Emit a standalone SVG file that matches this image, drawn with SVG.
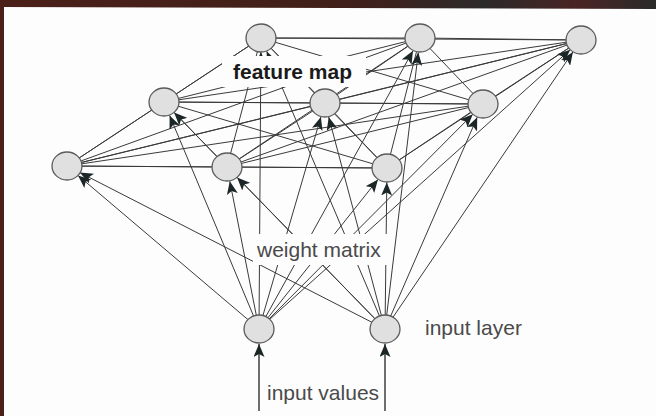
<svg xmlns="http://www.w3.org/2000/svg" width="656" height="416" viewBox="0 0 656 416">
  <defs>
    <linearGradient id="topBand" x1="0" y1="0" x2="1" y2="0">
      <stop offset="0" stop-color="#4b2019"/>
      <stop offset="0.55" stop-color="#40201a"/>
      <stop offset="0.74" stop-color="#2c2a2a"/>
      <stop offset="0.88" stop-color="#4a2424"/>
      <stop offset="1" stop-color="#2a2a2a"/>
    </linearGradient>
    <marker id="ah" markerWidth="14" markerHeight="11" refX="13" refY="5.5" orient="auto" markerUnits="userSpaceOnUse">
      <path d="M0,0 L13,5.5 L0,11 L3,5.5 z" fill="#1c2626"/>
    </marker>
    <style>
      .lat { stroke: #3a3a3a; stroke-width: 1; fill: none; }
      .w { stroke: #3a3a3a; stroke-width: 1; fill: none; marker-end: url(#ah); }
      .in { stroke: #222; stroke-width: 1.3; fill: none; marker-end: url(#ah); }
      .node ellipse { fill: #e0e0e0; stroke: #5a5a5a; stroke-width: 1.3; }
      .lbl { font-family: "Liberation Sans", Arial, sans-serif; font-size: 21px; fill: #4a4a4a; }
      .bold { font-weight: bold; fill: #1a1a1a; }
    </style>
  </defs>

  <!-- background and frame -->
  <rect x="0" y="0" width="656" height="416" fill="#fdfdfd"/>
  <polygon points="0,0 656,0 656,9 0,7" fill="url(#topBand)"/>
  <rect x="0" y="0" width="4" height="416" fill="#4a2019"/>

  <g id="connectors">
    <!-- lateral links inside the feature map -->
    <g id="lateral">
      <line class="lat" x1="261" y1="38" x2="420" y2="38"/>
      <line class="lat" x1="261" y1="38" x2="581" y2="40"/>
      <line class="lat" x1="261" y1="38" x2="164" y2="102"/>
      <line class="lat" x1="261" y1="38" x2="325" y2="103"/>
      <line class="lat" x1="261" y1="38" x2="483" y2="104"/>
      <line class="lat" x1="261" y1="38" x2="67" y2="166"/>
      <line class="lat" x1="261" y1="38" x2="227" y2="167"/>
      <line class="lat" x1="261" y1="38" x2="387" y2="168"/>
      <line class="lat" x1="420" y1="38" x2="581" y2="40"/>
      <line class="lat" x1="420" y1="38" x2="164" y2="102"/>
      <line class="lat" x1="420" y1="38" x2="325" y2="103"/>
      <line class="lat" x1="420" y1="38" x2="483" y2="104"/>
      <line class="lat" x1="420" y1="38" x2="67" y2="166"/>
      <line class="lat" x1="420" y1="38" x2="227" y2="167"/>
      <line class="lat" x1="420" y1="38" x2="387" y2="168"/>
      <line class="lat" x1="581" y1="40" x2="164" y2="102"/>
      <line class="lat" x1="581" y1="40" x2="325" y2="103"/>
      <line class="lat" x1="581" y1="40" x2="483" y2="104"/>
      <line class="lat" x1="581" y1="40" x2="67" y2="166"/>
      <line class="lat" x1="581" y1="40" x2="227" y2="167"/>
      <line class="lat" x1="581" y1="40" x2="387" y2="168"/>
      <line class="lat" x1="164" y1="102" x2="325" y2="103"/>
      <line class="lat" x1="164" y1="102" x2="483" y2="104"/>
      <line class="lat" x1="164" y1="102" x2="67" y2="166"/>
      <line class="lat" x1="164" y1="102" x2="227" y2="167"/>
      <line class="lat" x1="164" y1="102" x2="387" y2="168"/>
      <line class="lat" x1="325" y1="103" x2="483" y2="104"/>
      <line class="lat" x1="325" y1="103" x2="67" y2="166"/>
      <line class="lat" x1="325" y1="103" x2="227" y2="167"/>
      <line class="lat" x1="325" y1="103" x2="387" y2="168"/>
      <line class="lat" x1="483" y1="104" x2="67" y2="166"/>
      <line class="lat" x1="483" y1="104" x2="227" y2="167"/>
      <line class="lat" x1="483" y1="104" x2="387" y2="168"/>
      <line class="lat" x1="67" y1="166" x2="227" y2="167"/>
      <line class="lat" x1="67" y1="166" x2="387" y2="168"/>
      <line class="lat" x1="227" y1="167" x2="387" y2="168"/>
    </g>

    <!-- weights from input 1 -->
    <g id="weights-in1">
      <line class="w" x1="259.1" y1="315" x2="260.9" y2="52"/>
      <line class="w" x1="265.8" y1="316.7" x2="413" y2="50.7"/>
      <line class="w" x1="269.4" y1="319.6" x2="570.2" y2="49.7"/>
      <line class="w" x1="253.6" y1="316.1" x2="169.6" y2="115.4"/>
      <line class="w" x1="262.9" y1="315.6" x2="320.9" y2="116.9"/>
      <line class="w" x1="268.9" y1="319.1" x2="472.8" y2="114.3"/>
      <line class="w" x1="248.3" y1="319.9" x2="78" y2="175.4"/>
      <line class="w" x1="256.3" y1="315.3" x2="229.8" y2="181.2"/>
      <line class="w" x1="267.7" y1="318" x2="378" y2="179.4"/>
    </g>

    <!-- weights from input 2 -->
    <g id="weights-in2">
      <line class="w" x1="379.5" y1="316.1" x2="266.7" y2="51.3"/>
      <line class="w" x1="386.7" y1="315.1" x2="418.3" y2="52.4"/>
      <line class="w" x1="392.9" y1="317.4" x2="572.9" y2="52"/>
      <line class="w" x1="375.2" y1="319" x2="174.1" y2="112.4"/>
      <line class="w" x1="381.4" y1="315.5" x2="328.7" y2="117"/>
      <line class="w" x1="390.6" y1="316.2" x2="477.2" y2="117.3"/>
      <line class="w" x1="372.5" y1="322.6" x2="79.9" y2="172.6"/>
      <line class="w" x1="375.2" y1="319" x2="237.1" y2="177.4" stroke-width="1.6"/>
      <line class="w" x1="385.2" y1="315" x2="386.8" y2="182.5"/>
    </g>

    <!-- external input arrows -->
    <g id="inputs">
      <line class="in" x1="259" y1="411" x2="259" y2="344"/>
      <line class="in" x1="385" y1="411" x2="385" y2="344"/>
    </g>
  </g>

  <!-- label backings that break the lines -->
  <g id="labels">
    <rect x="222" y="56" width="144" height="31" fill="#fdfdfd"/>
    <text class="lbl bold" x="233" y="79">feature map</text>
    <rect x="253" y="234" width="138" height="31" fill="#fdfdfd"/>
    <text class="lbl" x="257" y="257">weight matrix</text>
    <text class="lbl" x="425" y="335">input layer</text>
    <text class="lbl" x="267" y="400" fill="#333">input values</text>
  </g>

  <!-- feature map neurons (3 x 3) -->
  <g id="n-a1" class="node"><ellipse cx="261" cy="38" rx="15" ry="14"/></g>
  <g id="n-a2" class="node"><ellipse cx="420" cy="38" rx="15" ry="14"/></g>
  <g id="n-a3" class="node"><ellipse cx="581" cy="40" rx="15" ry="14"/></g>
  <g id="n-b1" class="node"><ellipse cx="164" cy="102" rx="15" ry="14"/></g>
  <g id="n-b2" class="node"><ellipse cx="325" cy="103" rx="15" ry="14"/></g>
  <g id="n-b3" class="node"><ellipse cx="483" cy="104" rx="15" ry="14"/></g>
  <g id="n-c1" class="node"><ellipse cx="67" cy="166" rx="15" ry="14"/></g>
  <g id="n-c2" class="node"><ellipse cx="227" cy="167" rx="15" ry="14"/></g>
  <g id="n-c3" class="node"><ellipse cx="387" cy="168" rx="15" ry="14"/></g>

  <!-- input layer neurons -->
  <g id="n-in1" class="node"><ellipse cx="259" cy="329" rx="15" ry="14"/></g>
  <g id="n-in2" class="node"><ellipse cx="385" cy="329" rx="15" ry="14"/></g>
</svg>
